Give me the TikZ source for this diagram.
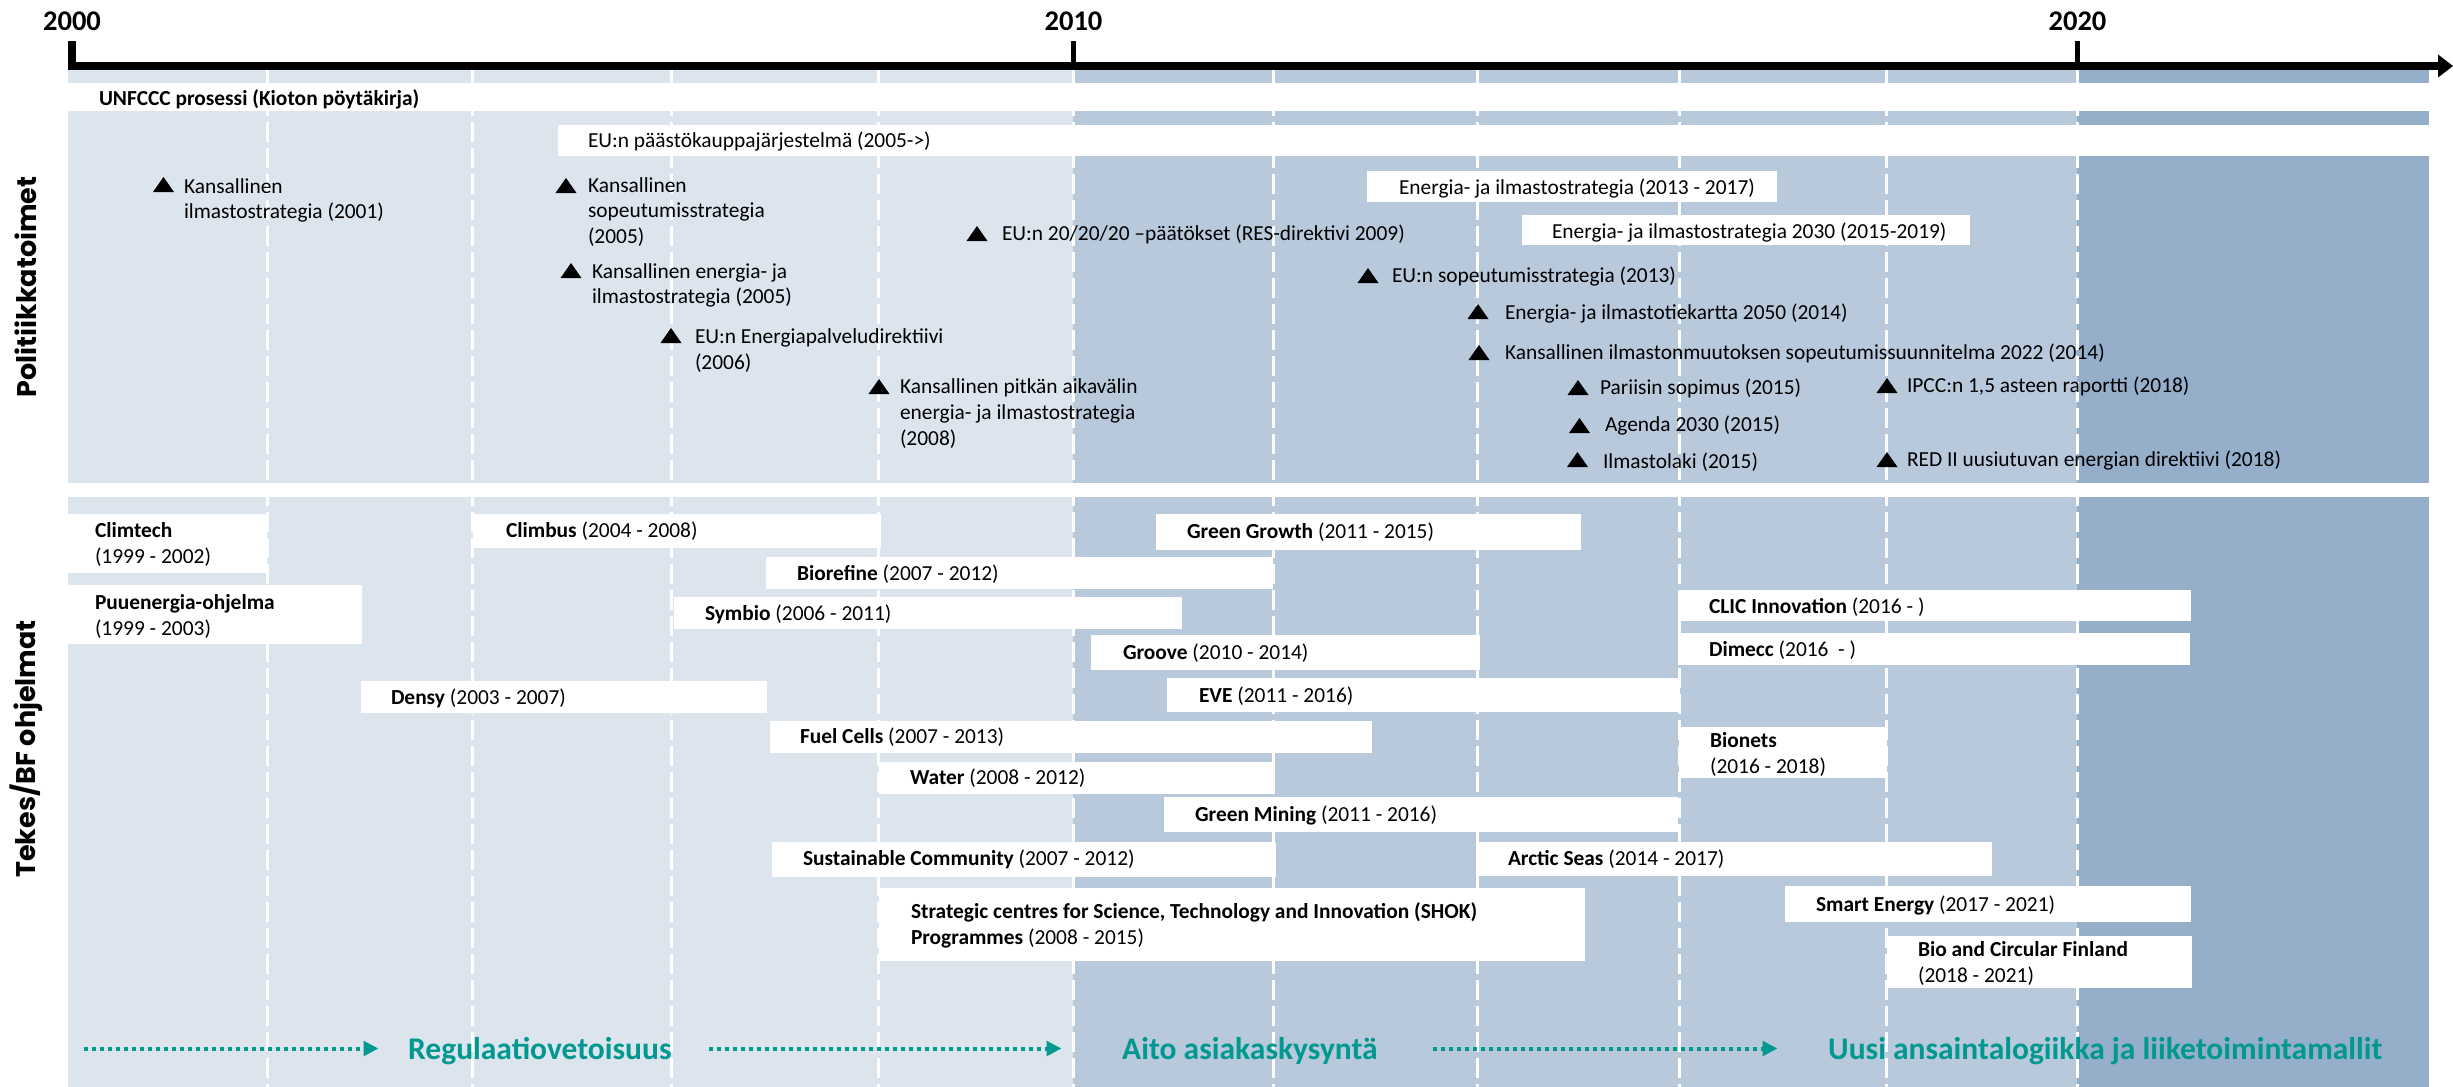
\documentclass[tikz,border=0pt]{standalone}
\usepackage{fontspec}
\setmainfont{Carlito}
\newfontfamily\sidefont{Poppins}
\usetikzlibrary{arrows.meta}
\definecolor{cLight}{RGB}{220,228,238}
\definecolor{cMid}{RGB}{184,201,220}
\definecolor{cDark}{RGB}{149,174,202}
\definecolor{cTeal}{RGB}{0,152,143}
\newcommand\tstrut{\rule{0pt}{18pt}}
\begin{document}
\begin{tikzpicture}[x=1pt,y=-1pt,
  txt/.style={anchor=north west, inner sep=0pt, outer sep=0pt, align=left, font=\fontsize{21.4}{25.8}\selectfont},
  yr/.style={anchor=base, inner sep=0pt, font=\fontsize{28.5}{30}\selectfont\bfseries},
  lab/.style={anchor=base west, inner sep=0pt, text=cTeal, font=\fontsize{31.5}{34}\selectfont\bfseries},
  side/.style={rotate=90, inner sep=0pt, font=\sidefont\fontsize{27}{30}\selectfont\bfseries},
  wbox/.style={fill=white},
  gridline/.style={white, line width=3pt, dash pattern=on 20pt off 6pt},
  axisline/.style={line width=8pt, line join=miter},
  yeartick/.style={line width=5pt},
  trend/.style={cTeal, line width=4pt, dash pattern=on 4pt off 4pt, -{Triangle[length=15pt,width=14.5pt]}},
  tri/.pic={\fill[black] (-10.5,0) -- (10.5,0) -- (0,-15) -- cycle;}
]
\useasboundingbox (0,0) rectangle (2453,1087);
\fill[white] (0,0) rectangle (2453,1087);

% panels
\fill[cLight] (68,70) rectangle (1073,483);
\fill[cMid] (1073,70) rectangle (2077,483);
\fill[cDark] (2077,70) rectangle (2429,483);
\fill[cLight] (68,497) rectangle (1073,1087);
\fill[cMid] (1073,497) rectangle (2077,1087);
\fill[cDark] (2077,497) rectangle (2429,1087);

% dashed grid
\foreach \gx in {267,472,671,878,1073,1273,1477,1679,1886,2077}
  \draw[gridline] (\gx,70) -- (\gx,1087);

% axis
\draw[axisline] (72,41) -- (72,66) -- (2439,66);
\fill[black] (2438,54.5) -- (2453,66) -- (2438,77.5) -- cycle;
\draw[yeartick] (1073.5,41) -- (1073.5,63);
\draw[yeartick] (2077.5,41) -- (2077.5,63);
\node[yr] (y2000) at (72,30) {2000};
\node[yr] (y2010) at (1073.5,30) {2010};
\node[yr] (y2020) at (2077.5,30) {2020};

% side labels
\node[side] (sideA) at (26,287) {Politiikkatoimet};
\node[side] (sideB) at (26,749) {Tekes/BF ohjelmat};

% upper white bars
\fill[wbox] (68,83) rectangle (2429,111);
\fill[wbox] (558,125) rectangle (2429,156);
\fill[wbox] (1367,171) rectangle (1777,202);
\fill[wbox] (1522,215) rectangle (1970,245);

\node[txt] (unfccc) at (99,87.5) {\tstrut\textbf{UNFCCC prosessi (Kioton pöytäkirja)}};
\node[txt] (ets) at (588,129.5) {\tstrut EU:n päästökauppajärjestelmä (2005->)};
\node[txt] (eis1) at (1399,176) {\tstrut Energia- ja ilmastostrategia (2013 - 2017)};
\node[txt] (eis2) at (1552,220.5) {\tstrut Energia- ja ilmastostrategia 2030 (2015-2019)};

% milestones
\pic at (163.5,192) {tri};
\node[txt] (m1) at (184,175) {\tstrut Kansallinen\\ilmastostrategia (2001)};
\pic at (566,193) {tri};
\node[txt] (m2) at (588,174) {\tstrut Kansallinen\\sopeutumisstrategia\\(2005)};
\pic at (571,278) {tri};
\node[txt] (m3) at (592,260) {\tstrut Kansallinen energia- ja\\ilmastostrategia (2005)};
\pic at (671,343) {tri};
\node[txt] (m4) at (695,325.5) {\tstrut EU:n Energiapalveludirektiivi\\(2006)};
\pic at (879,394) {tri};
\node[txt] (m5) at (900,375.5) {\tstrut Kansallinen pitkän aikavälin\\energia- ja ilmastostrategia\\(2008)};
\pic at (977,241) {tri};
\node[txt] (m6) at (1002,222) {\tstrut EU:n 20/20/20 –päätökset (RES-direktivi 2009)};
\pic at (1368,283) {tri};
\node[txt] (m9) at (1392,264.5) {\tstrut EU:n sopeutumisstrategia (2013)};
\pic at (1478,319) {tri};
\node[txt] (m10) at (1505,301.5) {\tstrut Energia- ja ilmastotiekartta 2050 (2014)};
\pic at (1479,360) {tri};
\node[txt] (m11) at (1505,341.5) {\tstrut Kansallinen ilmastonmuutoksen sopeutumissuunnitelma 2022 (2014)};
\pic at (1578,395) {tri};
\node[txt] (m12) at (1600,376.5) {\tstrut Pariisin sopimus (2015)};
\pic at (1579.5,433) {tri};
\node[txt] (m13) at (1605,413.5) {\tstrut Agenda 2030 (2015)};
\pic at (1577.5,467) {tri};
\node[txt] (m14) at (1603,450.5) {\tstrut Ilmastolaki (2015)};
\pic at (1887,393) {tri};
\node[txt] (m15) at (1907,374.5) {\tstrut IPCC:n 1,5 asteen raportti (2018)};
\pic at (1887,467) {tri};
\node[txt] (m16) at (1907,448.5) {\tstrut RED II uusiutuvan energian direktiivi (2018)};

% programme boxes
\fill[wbox] (68,514) rectangle (267,573);
\fill[wbox] (68,585) rectangle (362,644);
\fill[wbox] (473,514) rectangle (881,548);
\fill[wbox] (766,557) rectangle (1273,589);
\fill[wbox] (674,597) rectangle (1182,629);
\fill[wbox] (361,681) rectangle (767,713);
\fill[wbox] (770,721) rectangle (1372,753);
\fill[wbox] (772,842) rectangle (1276,877);
\fill[wbox] (1156,514) rectangle (1581,550);
\fill[wbox] (1091,635) rectangle (1480,670);
\fill[wbox] (1167,678) rectangle (1680,712);
\fill[wbox] (879,762) rectangle (1275,794);
\fill[wbox] (1164,797) rectangle (1678,832);
\fill[wbox] (879,888) rectangle (1585,961);
\fill[wbox] (1476,842) rectangle (1992,876);
\fill[wbox] (1678,590) rectangle (2191,621);
\fill[wbox] (1678,633) rectangle (2190,665);
\fill[wbox] (1679,727) rectangle (1887,778);
\fill[wbox] (1785,886) rectangle (2191,922);
\fill[wbox] (1887,936) rectangle (2192,988);

\node[txt] (p1) at (95,519.5) {\tstrut\textbf{Climtech}\\(1999 - 2002)};
\node[txt] (p2) at (95,591.5) {\tstrut\textbf{Puuenergia-ohjelma}\\(1999 - 2003)};
\node[txt] (p3) at (506,519.5) {\tstrut\textbf{Climbus} (2004 - 2008)};
\node[txt] (p4) at (797,562.5) {\tstrut\textbf{Biorefine} (2007 - 2012)};
\node[txt] (p5) at (705,602.5) {\tstrut\textbf{Symbio} (2006 - 2011)};
\node[txt] (p6) at (391,686.5) {\tstrut\textbf{Densy} (2003 - 2007)};
\node[txt] (p7) at (800,725.5) {\tstrut\textbf{Fuel Cells} (2007 - 2013)};
\node[txt] (p8) at (803,847.5) {\tstrut\textbf{Sustainable Community} (2007 - 2012)};
\node[txt] (p9) at (1187,520.5) {\tstrut\textbf{Green Growth} (2011 - 2015)};
\node[txt] (p10) at (1123,641.5) {\tstrut\textbf{Groove} (2010 - 2014)};
\node[txt] (p11) at (1199,684.5) {\tstrut\textbf{EVE} (2011 - 2016)};
\node[txt] (p12) at (910,766.5) {\tstrut\textbf{Water} (2008 - 2012)};
\node[txt] (p13) at (1195,803.5) {\tstrut\textbf{Green Mining} (2011 - 2016)};
\node[txt] (p14) at (911,900.5) {\tstrut\textbf{Strategic centres for Science, Technology and Innovation (SHOK)}\\\textbf{Programmes} (2008 - 2015)};
\node[txt] (p15) at (1508,847.5) {\tstrut\textbf{Arctic Seas} (2014 - 2017)};
\node[txt] (p16) at (1709,595.5) {\tstrut\textbf{CLIC Innovation} (2016 - )};
\node[txt] (p17) at (1709,638.5) {\tstrut\textbf{Dimecc} (2016~~- )};
\node[txt] (p18) at (1710,729.5) {\tstrut\textbf{Bionets}\\(2016 - 2018)};
\node[txt] (p19) at (1816,893.5) {\tstrut\textbf{Smart Energy} (2017 - 2021)};
\node[txt] (p20) at (1918,938.5) {\tstrut\textbf{Bio and Circular Finland}\\(2018 - 2021)};

% trends
\coordinate (t1s) at (84,1048.5);
\coordinate (t1e) at (378.5,1048.5);
\coordinate (t2s) at (709,1048.5);
\coordinate (t2e) at (1061.5,1048.5);
\coordinate (t3s) at (1433,1048.5);
\coordinate (t3e) at (1777.5,1048.5);
\draw[trend] (t1s) -- (t1e);
\draw[trend] (t2s) -- (t2e);
\draw[trend] (t3s) -- (t3e);
\node[lab] (l1) at (408,1059) {Regulaatiovetoisuus};
\node[lab] (l2) at (1122,1059) {Aito asiakaskysyntä};
\node[lab] (l3) at (1828,1059) {Uusi ansaintalogiikka ja liiketoimintamallit};
\end{tikzpicture}
\end{document}
